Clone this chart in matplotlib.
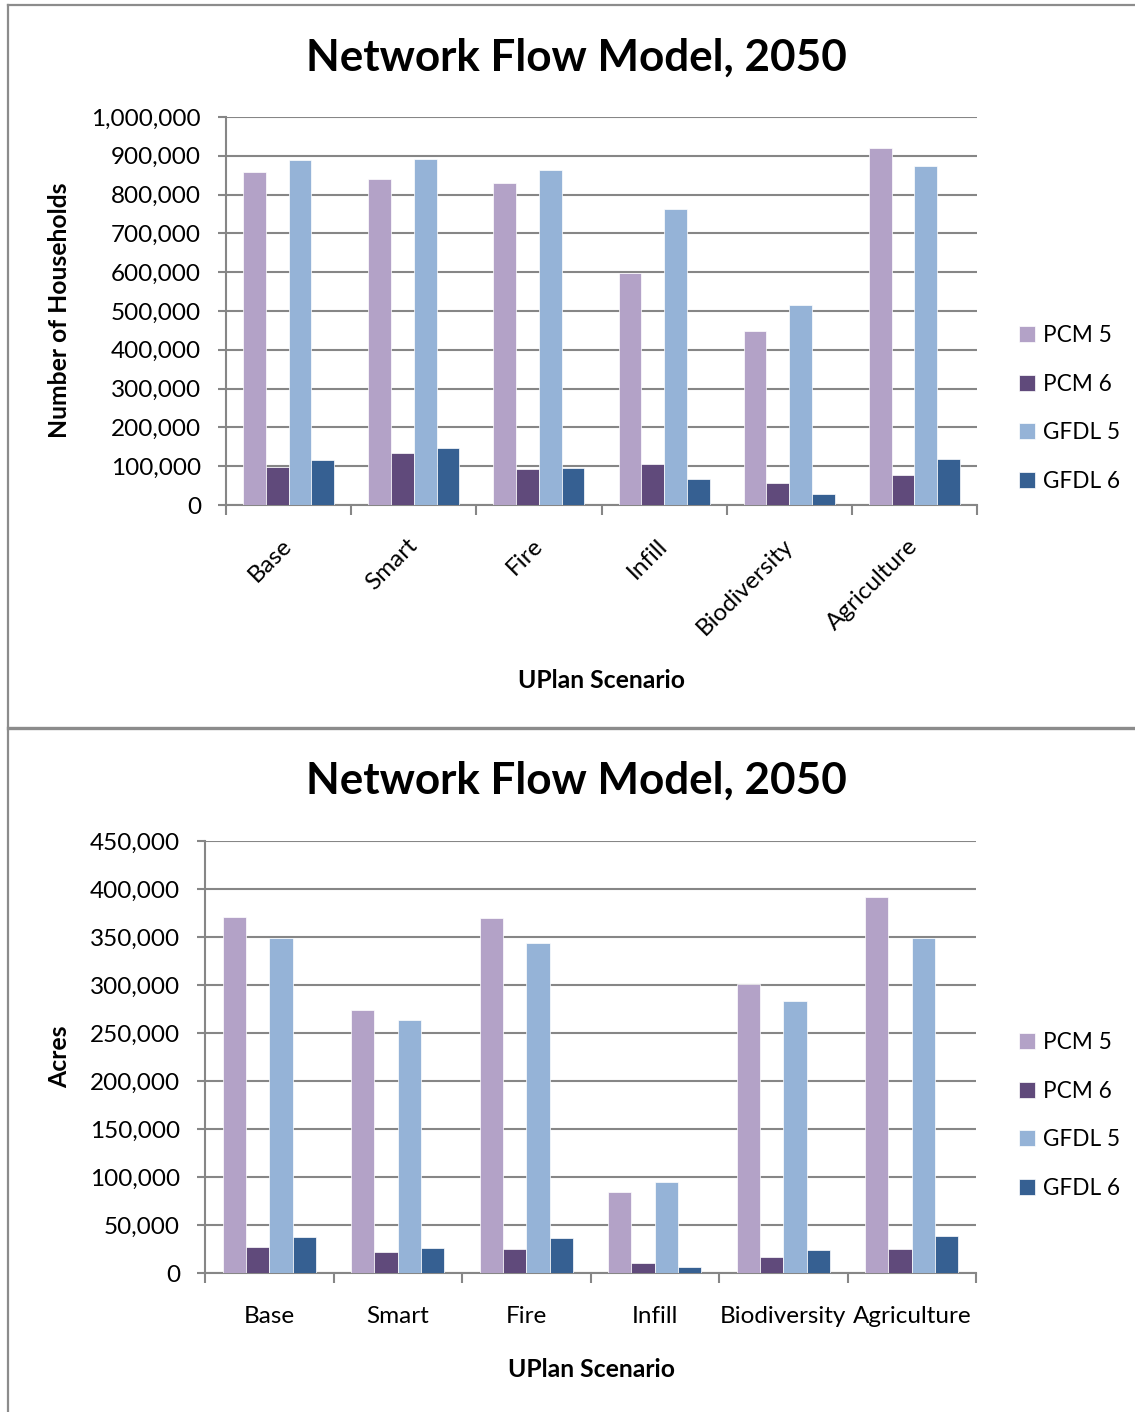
import numpy as np
import matplotlib
matplotlib.use('Agg')
import matplotlib.pyplot as plt
from matplotlib.lines import Line2D
from matplotlib.patches import Patch
from matplotlib.ticker import StrMethodFormatter, FixedLocator

plt.rcParams['font.family'] = ['Lato', 'DejaVu Sans']

scenarios = ['Base', 'Smart', 'Fire', 'Infill', 'Biodiversity', 'Agriculture']
series = ['PCM 5', 'PCM 6', 'GFDL 5', 'GFDL 6']
colors = ['#B3A2C7', '#604A7B', '#95B3D7', '#366092']

# households, 2050
hh_pcm5 = [857000, 839000, 831000, 598000, 449000, 920000]
hh_pcm6 = [99000, 135000, 94000, 106000, 57000, 78000]
hh_gfdl5 = [888000, 893000, 863000, 764000, 515000, 874000]
hh_gfdl6 = [116000, 147000, 95000, 68000, 28000, 119000]

# acres, 2050
ac_pcm5 = [371000, 274000, 370000, 84000, 301000, 392000]
ac_pcm6 = [27000, 22000, 25000, 10000, 17000, 25000]
ac_gfdl5 = [349000, 264000, 344000, 95000, 283000, 349000]
ac_gfdl6 = [37000, 26000, 36000, 6000, 24000, 39000]

W, H = 1135, 1412
fig = plt.figure(figsize=(W / 100, H / 100), dpi=100)
GRID = '#868686'
TXT = 17.5


def fx(px):
    return px / W


def fy(py):
    return 1 - py / H


def panel(rect, data, ymax, ystep, ylabel, rotate, title_y, legend_y):
    ax = fig.add_axes(rect)
    x = np.arange(len(scenarios))
    w = 1 / 5.5
    for j, (vals, c) in enumerate(zip(data, colors)):
        ax.bar(x + (j - 1.5) * w, vals, w, color=c, edgecolor='white',
               linewidth=0.5, zorder=3)
    ax.set_xlim(-0.5, len(scenarios) - 0.5)
    ax.set_ylim(0, ymax)
    ax.set_yticks(np.arange(0, ymax + 1, ystep))
    ax.yaxis.set_major_formatter(StrMethodFormatter('{x:,.0f}'))
    ax.grid(axis='y', color=GRID, linewidth=1.5, zorder=0)
    ax.set_axisbelow(True)
    for s in ['top', 'right']:
        ax.spines[s].set_visible(False)
    for s in ['left', 'bottom']:
        ax.spines[s].set_color(GRID)
        ax.spines[s].set_linewidth(1.5)
    ax.tick_params(axis='y', length=6, width=1.5, color=GRID, pad=12,
                   labelsize=TXT)
    ax.set_xticks(x)
    ax.xaxis.set_minor_locator(FixedLocator(np.arange(-0.5, len(scenarios), 1)))
    ax.tick_params(axis='x', which='minor', length=7, width=1.5, color=GRID)
    if rotate:
        ax.tick_params(axis='x', which='major', length=0, pad=27, labelsize=TXT)
        ax.set_xticklabels(scenarios, rotation=45, ha='right', va='center',
                           rotation_mode='anchor')
    else:
        ax.tick_params(axis='x', which='major', length=0, pad=23.5, labelsize=TXT)
        ax.set_xticklabels(scenarios)
    ax.set_ylabel(ylabel, fontsize=17.8, fontweight='bold')
    ax.set_xlabel('UPlan Scenario', fontsize=17.8, fontweight='bold')
    fig.text(fx(576), fy(title_y), 'Network Flow Model, 2050', fontsize=31.7,
             fontweight='bold', ha='center', va='center')
    handles = [Patch(facecolor=c, edgecolor='white', linewidth=0.5) for c in colors]
    ax.legend(handles, series, loc='upper left', frameon=False, fontsize=16.3,
              bbox_to_anchor=(fx(1019), fy(legend_y)), bbox_transform=fig.transFigure,
              handlelength=0.7, handleheight=0.7, handletextpad=0.35,
              labelspacing=1.22, borderaxespad=0, borderpad=0)
    return ax


top = panel([fx(226), fy(505), fx(977) - fx(226), fy(117) - fy(505)],
            [hh_pcm5, hh_pcm6, hh_gfdl5, hh_gfdl6], 1000000, 100000,
            'Number of Households', True, 58, 325)
top.yaxis.set_label_coords(fx(71), fy(310), transform=fig.transFigure)
top.xaxis.set_label_coords(fx(601), fy(669), transform=fig.transFigure)

bot = panel([fx(205), fy(1273), fx(976) - fx(205), fy(841) - fy(1273)],
            [ac_pcm5, ac_pcm6, ac_gfdl5, ac_gfdl6], 450000, 50000,
            'Acres', False, 781, 1032)
bot.yaxis.set_label_coords(fx(71), fy(1057), transform=fig.transFigure)
bot.xaxis.set_label_coords(fx(591), fy(1358), transform=fig.transFigure)

# chart frame lines
BORDER = '#8c8c8c'
fig.add_artist(Line2D([fx(8), fx(8)], [fy(5), 0], color=BORDER, lw=1.6))
fig.add_artist(Line2D([fx(8), 1], [fy(5), fy(5)], color=BORDER, lw=1.6))
fig.add_artist(Line2D([fx(8), 1], [fy(728), fy(728)], color=BORDER, lw=2.4))

fig.savefig('out.png', dpi=100)
